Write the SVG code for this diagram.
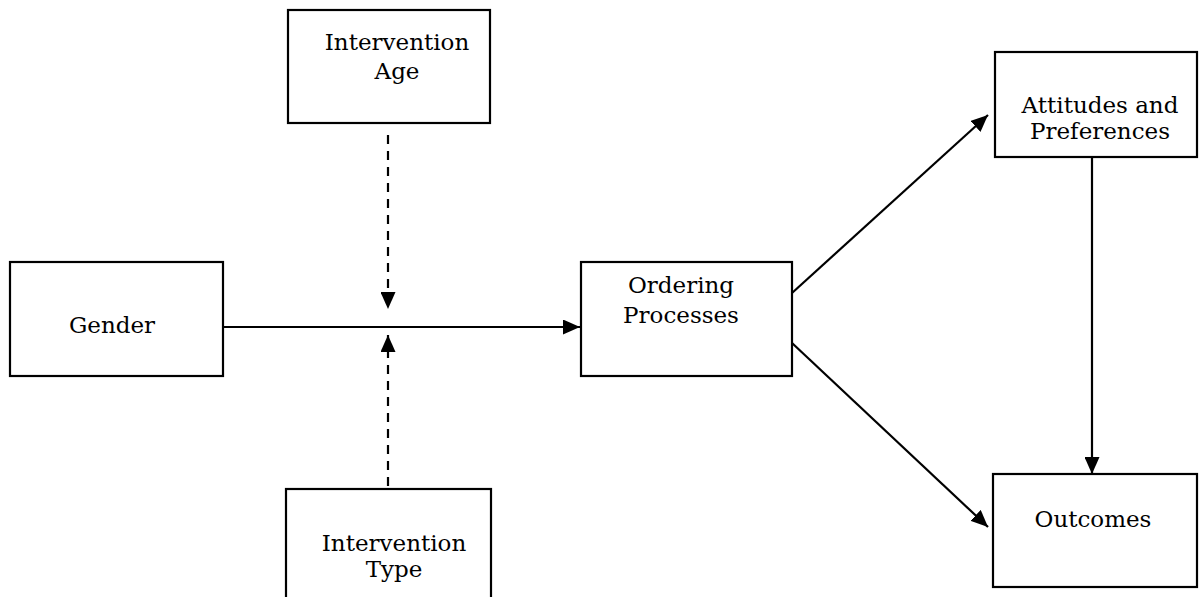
<svg xmlns="http://www.w3.org/2000/svg" width="1202" height="597" viewBox="0 0 1202 597">
<style>
.box{fill:#fff;stroke:#000;stroke-width:2.2}
.lbl{font-family:"DejaVu Serif","Liberation Serif",serif;font-size:23px;fill:#000;text-anchor:middle}
.ln{fill:none;stroke:#000;stroke-width:2.2}
.dash{stroke-dasharray:9,7}
</style>
<defs>
<marker id="ah" viewBox="0 0 17 15" refX="17" refY="7.5" markerWidth="17" markerHeight="15" markerUnits="userSpaceOnUse" orient="auto">
<path d="M0,0 L17,7.5 L0,15 Z" fill="#000"/>
</marker>
</defs>
<rect width="1202" height="597" fill="#fff"/>
<g id="connectors">
<line class="ln" x1="223" y1="327" x2="580" y2="327" marker-end="url(#ah)"/>
<line class="ln dash" x1="388" y1="135" x2="388" y2="309" marker-end="url(#ah)"/>
<line class="ln dash" x1="388" y1="486" x2="388" y2="335" marker-end="url(#ah)"/>
<line class="ln" x1="792" y1="293" x2="988" y2="115" marker-end="url(#ah)"/>
<line class="ln" x1="792" y1="343" x2="988" y2="527" marker-end="url(#ah)"/>
<line class="ln" x1="1092" y1="157" x2="1092" y2="474" marker-end="url(#ah)"/>
</g>
<g id="intervention-age">
<rect class="box" x="288" y="10" width="202" height="113"/>
<text class="lbl" x="397" y="50">Intervention</text>
<text class="lbl" x="397" y="79">Age</text>
</g>
<g id="gender">
<rect class="box" x="10" y="262" width="213" height="114"/>
<text class="lbl" x="112" y="333">Gender</text>
</g>
<g id="ordering-processes">
<rect class="box" x="581" y="262" width="211" height="114"/>
<text class="lbl" x="681" y="293">Ordering</text>
<text class="lbl" x="681" y="323">Processes</text>
</g>
<g id="attitudes-preferences">
<rect class="box" x="995" y="52" width="202" height="105"/>
<text class="lbl" x="1100" y="113">Attitudes and</text>
<text class="lbl" x="1100" y="139">Preferences</text>
</g>
<g id="outcomes">
<rect class="box" x="993" y="474" width="204" height="113"/>
<text class="lbl" x="1093" y="527">Outcomes</text>
</g>
<g id="intervention-type">
<rect class="box" x="286" y="489" width="205" height="120"/>
<text class="lbl" x="394" y="551">Intervention</text>
<text class="lbl" x="394" y="577">Type</text>
</g>
</svg>
